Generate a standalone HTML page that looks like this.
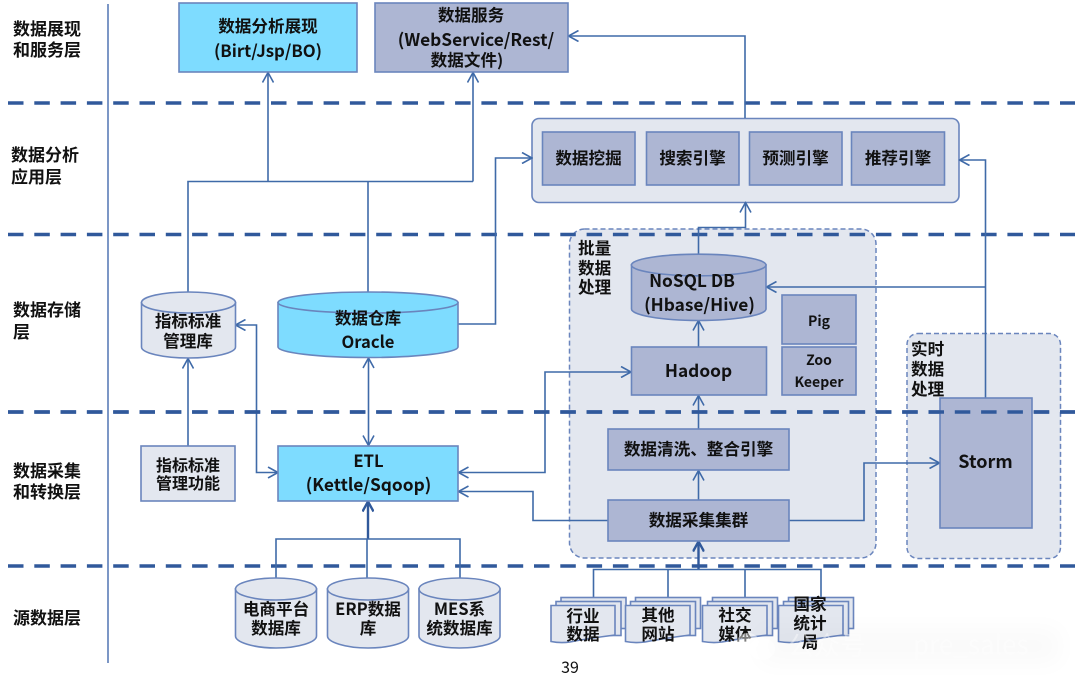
<!DOCTYPE html>
<html><head><meta charset="utf-8"><style>
html,body{margin:0;padding:0;background:#fff}
svg{display:block}
text{font-family:"Noto Sans CJK SC","WenQuanYi Zen Hei",sans-serif;font-weight:700;font-size:16.600px;fill:#111;text-anchor:middle}
.l{text-anchor:start}
.s{font-size:17px}
.la{font-size:17.300px}
.b{stroke:#6a85bd;stroke-width:1.6}
.c{fill:none;stroke:#3f6aa8;stroke-width:1.6}
.a{fill:none;stroke:#3f6aa8;stroke-width:1.6}
.d{fill:none;stroke:#30599b;stroke-width:3.6;stroke-dasharray:15.5 10.8}
.cy{fill:#7edcff}.gv{fill:#adb6d3}.gr{fill:#e3e7ef}
</style></head><body>
<svg width="1080" height="687" viewBox="0 0 1080 687" xmlns="http://www.w3.org/2000/svg">
<defs>
<marker id="m" viewBox="0 0 12 12" refX="11" refY="6" markerWidth="12" markerHeight="12" markerUnits="userSpaceOnUse" orient="auto-start-reverse"><path d="M1 .5L11 6L1 11.5" fill="none" stroke="#3f6aa8" stroke-width="1.6"/></marker>
<marker id="n" viewBox="0 0 12 12" refX="11" refY="6" markerWidth="12" markerHeight="12" markerUnits="userSpaceOnUse" orient="auto-start-reverse"><path d="M1 .5L11 6L1 11.5" fill="none" stroke="#30599b" stroke-width="2.400"/></marker>
<filter id="bl" x="-30%" y="-60%" width="160%" height="220%"><feGaussianBlur stdDeviation="12"/></filter>
</defs>
<!-- panels -->
<rect x="532" y="118.500" width="427" height="84" rx="7" class="b gr"/>
<rect x="569.500" y="229" width="306.500" height="329" rx="15" fill="#e3e7ef" stroke="#6a85bd" stroke-width="1.5" stroke-dasharray="5 3"/>
<rect x="907" y="333.500" width="153.500" height="225" rx="11" fill="#e3e7ef" stroke="#6a85bd" stroke-width="1.5" stroke-dasharray="5 3"/>
<!-- layer lines -->
<path class="d" d="M8 103H1075M8 234.500H1075M8 412H1075M8 566H1075"/>
<path d="M108 4V663" fill="none" stroke="#5b7db8" stroke-width="1.6"/>
<!-- connectors -->
<path class="c" d="M188 292V181.500H473"/>
<path class="c" d="M368 292V181.500"/>
<path class="a" d="M268 181.500V72.500" marker-end="url(#m)"/>
<path class="a" d="M473 181.500V72.500" marker-end="url(#m)"/>
<path class="a" d="M458 324H495.500V158H532" marker-end="url(#m)"/>
<path class="a" d="M745 118V36H568.500" marker-end="url(#m)"/>
<path class="a" d="M698.500 254V227.500H745.500V202.500" marker-end="url(#m)"/>
<path class="a" d="M698.500 347V320.500" marker-end="url(#m)"/>
<path class="a" d="M985.500 398V160H959.500" marker-end="url(#m)"/>
<path class="a" d="M985.500 287H766.500" marker-end="url(#m)"/>
<path class="a" d="M188 446V358.500" marker-end="url(#m)"/>
<path class="a" d="M368.500 358V445.500" marker-start="url(#m)" marker-end="url(#m)"/>
<path class="a" d="M235.500 325H256.500V472.500H278" marker-start="url(#m)" marker-end="url(#m)"/>
<path class="a" d="M458.500 472.500H545V372H631" marker-start="url(#m)" marker-end="url(#m)"/>
<path class="a" d="M458.500 491.500H533V520.500H608"  marker-start="url(#m)"/>
<path class="a" d="M698.500 500V470.500" marker-end="url(#m)"/>
<path class="a" d="M698.500 429V395.500" marker-end="url(#m)"/>
<path class="a" d="M789 520.500H864V463H939.500" marker-end="url(#m)"/>
<path class="a" d="M368 539V501.500" marker-end="url(#n)" style="stroke-width:2.400;stroke:#30599b"/>
<path class="c" d="M276 578V539H460V578M367 539V578"/>
<path class="a" d="M698.500 569V541.500" marker-end="url(#n)" style="stroke-width:2.400;stroke:#30599b"/>
<path class="c" d="M593.500 597V569.500H821V597M668 569.500V597M745 569.500V597"/>
<!-- top boxes -->
<rect x="179" y="3" width="178" height="69" class="b cy"/>
<rect x="375" y="3" width="193" height="69" class="b gv"/>
<text x="268" y="32">数据分析展现</text>
<text x="268" y="57" style="font-size:16.800px">(Birt/Jsp/BO)</text>
<text x="471" y="21">数据服务</text>
<text x="476" y="46" class="la">(WebService/Rest/</text>
<text x="467" y="66">数据文件)</text>
<!-- engines -->
<rect x="542.500" y="132" width="92.500" height="53" class="b gv"/>
<rect x="646.500" y="132" width="92.500" height="53" class="b gv"/>
<rect x="749.500" y="132" width="92.500" height="53" class="b gv"/>
<rect x="851.500" y="132" width="93" height="53" class="b gv"/>
<text x="588.500" y="164">数据挖掘</text>
<text x="692.500" y="164">搜索引擎</text>
<text x="795.500" y="164">预测引擎</text>
<text x="898" y="164">推荐引擎</text>
<!-- batch -->
<text class="l" x="578" y="254">批量</text>
<text class="l" x="578" y="274">数据</text>
<text class="l" x="578" y="293">处理</text>
<path class="b gv" d="M631.500 265V309C631.500 315 661 320.500 698.500 320.500S766 315 766 309V265Z"/>
<ellipse cx="698.700" cy="265" rx="67.300" ry="10.800" class="b gv"/>
<text x="692" y="287" class="la">NoSQL DB</text>
<text x="699.500" y="311" class="la">(Hbase/Hive)</text>
<rect x="782" y="295" width="74" height="49" class="b gv"/>
<rect x="782" y="347" width="74" height="48" class="b gv"/>
<text x="819" y="326" style="font-size:14px">Pig</text>
<text x="819" y="365" style="font-size:14px">Zoo</text>
<text x="819" y="387" style="font-size:14px">Keeper</text>
<rect x="631.500" y="347" width="135" height="48" class="b gv"/>
<text x="698.500" y="377" class="la">Hadoop</text>
<rect x="608" y="429" width="181" height="41" class="b gv"/>
<text x="698.500" y="455">数据清洗、整合引擎</text>
<rect x="608" y="500" width="181" height="41" class="b gv"/>
<text x="698.500" y="526">数据采集集群</text>
<!-- realtime -->
<rect x="940" y="398" width="92" height="130" class="b gv"/>
<text class="l" x="911" y="355">实时</text>
<text class="l" x="911" y="375">数据</text>
<text class="l" x="911" y="395">处理</text>
<text x="985.500" y="468" style="font-size:18px">Storm</text>
<path class="d" d="M8 412H1075"/>
<!-- storage -->
<path class="b gr" d="M141.500 302.500V347C141.500 353 163 358 188.500 358S235.500 353 235.500 347V302.500Z"/>
<ellipse cx="188.500" cy="302.500" rx="47" ry="10.500" class="b gr"/>
<text x="188" y="327">指标标准</text>
<text x="188" y="347">管理库</text>
<path class="b cy" d="M278 302.500V347C278 352.500 318 357.500 368 357.500S458 352.500 458 347V302.500Z"/>
<ellipse cx="368" cy="302.500" rx="90" ry="10.500" class="b cy"/>
<text x="368" y="324">数据仓库</text>
<text x="368" y="348">Oracle</text>
<!-- collect -->
<rect x="141" y="446" width="94" height="55" class="b gr"/>
<text x="188" y="471" style="font-size:16px">指标标准</text>
<text x="188" y="489" style="font-size:16px">管理功能</text>
<rect x="278" y="446" width="180" height="55" class="b cy"/>
<text x="368.500" y="467">ETL</text>
<text x="368.500" y="491" class="la">(Kettle/Sqoop)</text>
<!-- source dbs -->
<path class="b gr" d="M235.500 589V636C235.500 642 253 648 276 648S316.500 642 316.500 636V589Z"/>
<ellipse cx="276" cy="589" rx="40.500" ry="11" class="b gr"/>
<text x="276" y="615">电商平台</text>
<text x="276" y="634">数据库</text>
<path class="b gr" d="M327.500 589V636C327.500 642 345 648 368 648S408.500 642 408.500 636V589Z"/>
<ellipse cx="368" cy="589" rx="40.500" ry="11" class="b gr"/>
<text x="368" y="615">ERP数据</text>
<text x="368" y="634">库</text>
<path class="b gr" d="M419 589V636C419 642 437 648 459.500 648S500 642 500 636V589Z"/>
<ellipse cx="459.500" cy="589" rx="40.500" ry="11" class="b gr"/>
<text x="459.500" y="615">MES系</text>
<text x="459.500" y="634">统数据库</text>
<!-- document stacks -->
<g>
<rect x="561" y="597.500" width="65" height="31" class="b gr"/>
<rect x="556" y="601.500" width="65" height="34" class="b gr"/>
<path class="b gr" d="M551 605.500H615V635C600 637 585 639 570 642C563 643 556 642.500 551 641.500Z"/>
</g>
<g>
<rect x="635.500" y="597.500" width="65" height="31" class="b gr"/>
<rect x="630.500" y="601.500" width="65" height="34" class="b gr"/>
<path class="b gr" d="M625.500 605.500H690V635C675 637 660 639 645 642C638 643 631 642.500 625.500 641.500Z"/>
</g>
<g>
<rect x="712.500" y="597.500" width="65" height="31" class="b gr"/>
<rect x="707.500" y="601.500" width="65" height="34" class="b gr"/>
<path class="b gr" d="M702.500 605.500H767V635C752 637 737 639 722 642C715 643 708 642.500 702.500 641.500Z"/>
</g>
<g>
<rect x="788.500" y="597.500" width="65" height="31" class="b gr"/>
<rect x="783.500" y="601.500" width="65" height="34" class="b gr"/>
<path class="b gr" d="M778.500 605.500H843V635C828 637 813 639 798 642C791 643 784 642.500 778.500 641.500Z"/>
</g>
<text x="583" y="622">行业</text>
<text x="583" y="640">数据</text>
<text x="658" y="621">其他</text>
<text x="658" y="640">网站</text>
<text x="735" y="621">社交</text>
<text x="735" y="640">媒体</text>
<text x="810" y="610">国家</text>
<text x="810" y="629">统计</text>
<text x="810" y="648">局</text>
<!-- layer labels -->
<text class="l s" x="13" y="35">数据展现</text>
<text class="l s" x="13" y="56">和服务层</text>
<text class="l s" x="11" y="161">数据分析</text>
<text class="l s" x="11" y="183">应用层</text>
<text class="l s" x="13" y="316">数据存储</text>
<text class="l s" x="13" y="338">层</text>
<text class="l s" x="13" y="477">数据采集</text>
<text class="l s" x="13" y="498">和转换层</text>
<text class="l s" x="13" y="624">源数据层</text>
<text x="570" y="673" style="font-weight:400;font-size:16px">39</text>
<!-- watermark haze -->
<rect x="760" y="628" width="300" height="36" fill="#000" opacity=".02" filter="url(#bl)"/>
<ellipse cx="748" cy="642" rx="11" ry="9" fill="#fff" opacity=".45"/>
<ellipse cx="762" cy="649" rx="13" ry="11" fill="#fff" opacity=".6"/>
<text class="l" x="788" y="655" style="fill:#fff;fill-opacity:.4;font-weight:400;font-size:26px">公众号</text>
<text class="l" x="913" y="654" style="fill:#fff;fill-opacity:.35;font-weight:400;font-size:26px">pre_sales</text>
</svg>
</body></html>
